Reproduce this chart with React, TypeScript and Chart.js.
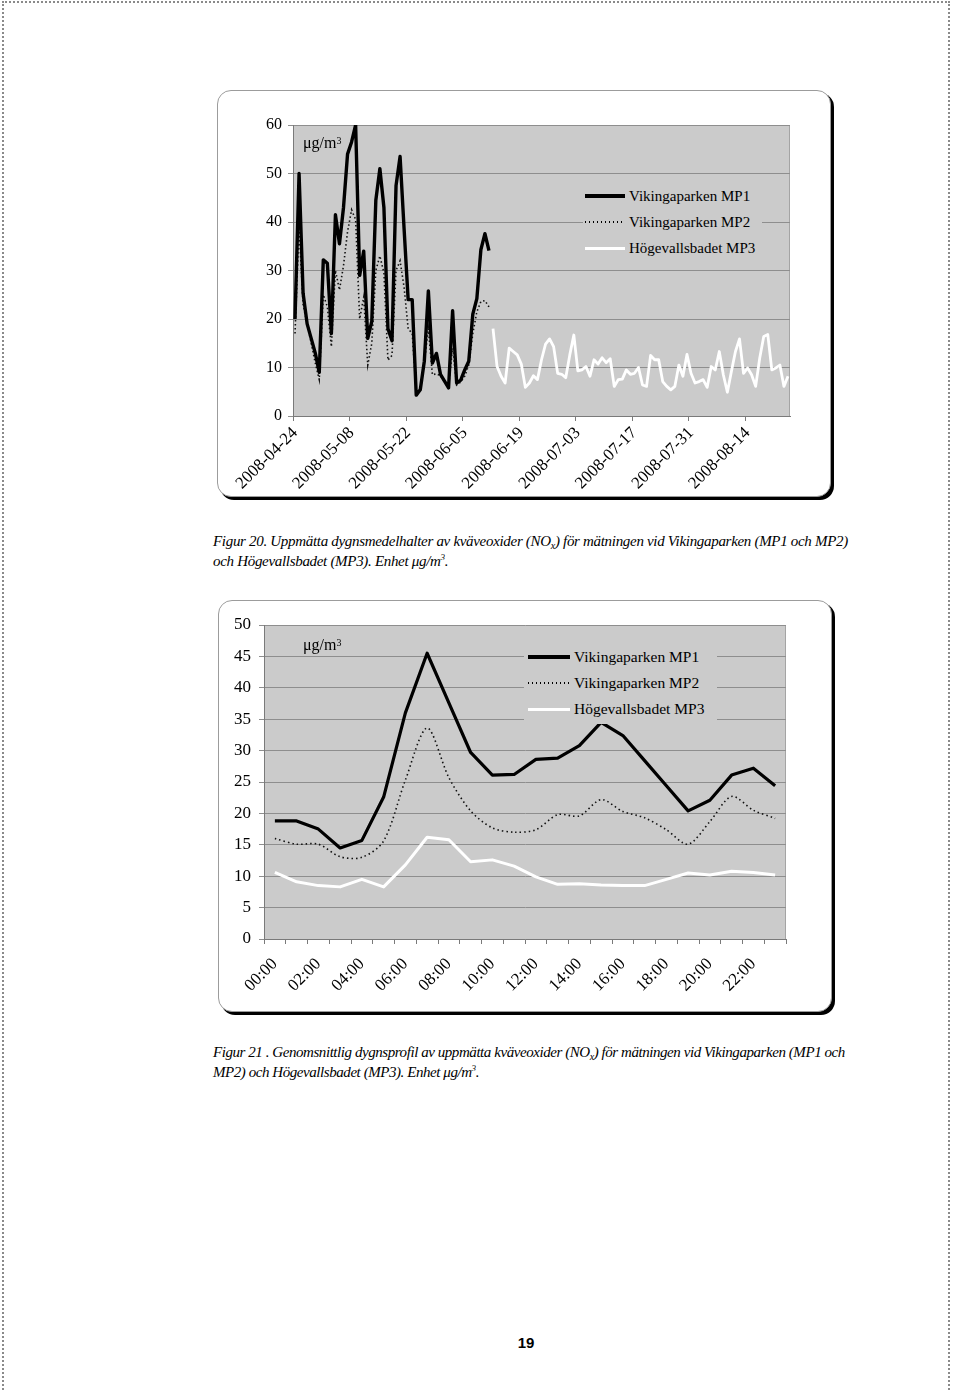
import React, { useEffect, useRef } from 'react';
import { Chart, registerables } from 'chart.js';

Chart.register(...registerables);

// ---------- Figure 20: daily means ----------
const DAY_START = '2008-04-24';
const DAY_COUNT = 123;
const DATE_TICK_LABELS = [
  '2008-04-24', '2008-05-08', '2008-05-22', '2008-06-05', '2008-06-19',
  '2008-07-03', '2008-07-17', '2008-07-31', '2008-08-14',
];
const DAILY_Y_TICKS = [0, 10, 20, 30, 40, 50, 60];

const MP1_DAILY = [
  20, 50, 25.3, 19, 16, 13, 9, 32.2, 31.5, 17,
  41.5, 35.5, 43, 54, 56.5, 60, 29, 34, 16, 19.5,
  44.5, 51, 43, 18, 15.5, 47.5, 53.5, 38.5, 24, 24,
  4.3, 5.4, 11.3, 25.8, 10.9, 12.9, 8.6, 7.2, 5.8, 21.7,
  6.8, 7.4, 9.5, 11.3, 21, 24.2, 34.3, 37.6, 34.1,
];
const MP2_DAILY = [
  17, 39, 23, 19, 15, 11, 7.5, 25, 22.5, 14.3,
  30, 26, 31, 38, 42.5, 40.5, 20, 24.5, 10.5, 15,
  30, 33, 29.5, 11.5, 12.5, 30, 32, 26.5, 18, 17,
  5, 5.5, 11, 18, 8.5, 8.7, 8.3, 7, 6, 14,
  6.4, 7, 8.2, 10.5, 17, 21.5, 23.6, 23.8, 22.5,
];
const MP3_DAILY_FIRST_DAY = 49;
const MP3_DAILY = [
  18, 10.2, 8.2, 6.8, 14, 13.3, 12.6, 10.7, 5.9, 6.8,
  8.3, 7.5, 11.6, 14.8, 15.9, 14.3, 8.8, 8.6, 7.9, 12.6,
  16.7, 9.3, 9.5, 10.2, 8.2, 11.6, 10.7, 12, 11, 11.8,
  6.1, 7.5, 7.6, 9.5, 8.6, 8.8, 10, 6.4, 6.1, 12.5,
  11.6, 11.6, 7.1, 6.1, 5.4, 6.1, 10.5, 8.2, 12.7, 8.8,
  6.8, 7.1, 7.5, 5.9, 10.2, 9.5, 13.3, 8.5, 4.9, 9.2,
  13.3, 15.9, 8.8, 9.9, 8.5, 6.1, 11.9, 16.4, 16.8, 9.5,
  9.9, 10.5, 6.1, 8.2,
];

// ---------- Figure 21: diurnal profile ----------
const HOURS = [
  '00:00', '01:00', '02:00', '03:00', '04:00', '05:00', '06:00', '07:00',
  '08:00', '09:00', '10:00', '11:00', '12:00', '13:00', '14:00', '15:00',
  '16:00', '17:00', '18:00', '19:00', '20:00', '21:00', '22:00', '23:00',
];
const HOUR_TICK_LABELS = [
  '00:00', '02:00', '04:00', '06:00', '08:00', '10:00',
  '12:00', '14:00', '16:00', '18:00', '20:00', '22:00',
];
const HOURLY_Y_TICKS = [0, 5, 10, 15, 20, 25, 30, 35, 40, 45, 50];
const MP1_HOURLY = [
  18.8, 18.8, 17.5, 14.5, 15.7, 22.6, 36, 45.5, 37.6, 29.7, 26.1, 26.2,
  28.6, 28.8, 30.8, 34.5, 32.4, 28.4, 24.4, 20.4, 22.1, 26.1, 27.2, 24.4,
];
const MP2_HOURLY = [
  16, 15.1, 15.1, 13.1, 13, 15.6, 25.3, 33.6, 25.7, 20.4, 17.7, 17,
  17.4, 19.8, 19.6, 22.2, 20.3, 19.3, 17.4, 15.1, 18.7, 22.7, 20.5, 19.2,
];
const MP3_HOURLY = [
  10.6, 9.1, 8.5, 8.3, 9.5, 8.3, 11.8, 16.2, 15.8, 12.3, 12.6, 11.6,
  9.9, 8.7, 8.8, 8.6, 8.5, 8.5, 9.5, 10.5, 10.2, 10.8, 10.6, 10.2,
];

const SERIES_NAMES = ['Vikingaparken MP1', 'Vikingaparken MP2', 'Högevallsbadet MP3'];

// ---------- helpers ----------
function buildDays(start: string, count: number): string[] {
  const out: string[] = [];
  const t0 = new Date(start + 'T00:00:00Z').getTime();
  for (let i = 0; i < count; i++) {
    out.push(new Date(t0 + i * 86400000).toISOString().slice(0, 10));
  }
  return out;
}
function padTo(values: number[], before: number, total: number): (number | null)[] {
  const arr: (number | null)[] = [];
  for (let i = 0; i < before; i++) arr.push(null);
  for (const v of values) arr.push(v);
  while (arr.length < total) arr.push(null);
  return arr;
}

const PLOT_BG = '#cbcbcb';
const GRID = '#8e8e8e';
const AXIS = '#7a7a7a';
const SERIF = "'Liberation Serif', 'Times New Roman', serif";

const plotBg = {
  id: 'plotBg',
  beforeDraw(chart: any) {
    const { ctx, chartArea } = chart;
    const { left, top, right, bottom } = chartArea;
    ctx.save();
    ctx.fillStyle = PLOT_BG;
    ctx.fillRect(left, top, right - left, bottom - top);
    ctx.strokeStyle = '#a4a4a4';
    ctx.lineWidth = 1;
    ctx.strokeRect(Math.round(right) - 0.5, Math.round(top) + 0.5, 0, bottom - top);
    ctx.restore();
  },
};

interface ChartSpec {
  labels: string[];
  tickLabels: string[];
  datasets: any[];
  yTicks: number[];
  width: number;
  height: number;
  areaLeft: number;
  areaTop: number;
  areaRight: number;
  areaBottom: number;
  showTickMark: (i: number) => boolean;
  yPad: number;
  xPad: number;
  xFont: number;
  yFont: number;
}

function LineChart({ spec }: { spec: ChartSpec }) {
  const ref = useRef<HTMLCanvasElement | null>(null);
  useEffect(() => {
    const canvas = ref.current;
    if (!canvas) return;
    const s = spec;
    const yMin = s.yTicks[0];
    const yMax = s.yTicks[s.yTicks.length - 1];
    const step = s.yTicks[1] - s.yTicks[0];
    const xHeight = s.height - s.areaBottom;
    const chart = new Chart(canvas, {
      type: 'line',
      data: { labels: s.labels, datasets: s.datasets },
      plugins: [plotBg],
      options: {
        animation: false,
        responsive: false,
        maintainAspectRatio: false,
        devicePixelRatio: 1,
        layout: { padding: { left: 0, top: s.areaTop, right: s.width - s.areaRight, bottom: 0 } },
        plugins: { legend: { display: false }, tooltip: { enabled: false }, title: { display: false } },
        elements: { point: { radius: 0, hoverRadius: 0 }, line: { tension: 0 } },
        scales: {
          x: {
            type: 'category',
            offset: true,
            grid: {
              offset: true,
              drawOnChartArea: false,
              tickLength: 5,
              color: (ctx: any) => (s.showTickMark(ctx.index) ? AXIS : 'rgba(0,0,0,0)'),
            },
            border: { color: AXIS, width: 1 },
            ticks: {
              autoSkip: false,
              minRotation: 45,
              maxRotation: 45,
              padding: s.xPad,
              color: '#000',
              font: { family: SERIF, size: s.xFont },
              callback: function (this: any, value: any) {
                const lab = this.getLabelForValue(value);
                return s.tickLabels.includes(lab) ? lab : '';
              },
            },
            afterFit: (sc: any) => {
              sc.height = xHeight;
              sc.paddingLeft = 0;
              sc.paddingRight = 0;
            },
          },
          y: {
            min: yMin,
            max: yMax,
            grid: { color: GRID, tickLength: 5, lineWidth: 1 },
            border: { color: AXIS, width: 1 },
            ticks: {
              stepSize: step,
              padding: s.yPad,
              color: '#000',
              font: { family: SERIF, size: s.yFont },
            },
            afterFit: (sc: any) => {
              sc.width = s.areaLeft;
              sc.paddingTop = 0;
              sc.paddingBottom = 0;
            },
          },
        },
      } as any,
    });
    return () => chart.destroy();
  }, [spec]);
  return (
    <canvas
      ref={ref}
      width={spec.width}
      height={spec.height}
      style={{ position: 'absolute', left: 0, top: 0, width: spec.width, height: spec.height }}
    />
  );
}

function LegendBox({ left, top, width, height, rowY, lineX, lineW, textX, fontSize }: any) {
  const samples = [
    { height: 3.5, background: '#000' },
    { height: 1.5, background: 'repeating-linear-gradient(to right, #000 0 1.5px, rgba(0,0,0,0) 1.5px 4px)' },
    { height: 3, background: '#fff' },
  ];
  return (
    <div style={{ position: 'absolute', left, top, width, height, background: PLOT_BG }}>
      {SERIES_NAMES.map((name, i) => (
        <React.Fragment key={name}>
          <div
            style={{
              position: 'absolute',
              left: lineX,
              top: rowY[i] - samples[i].height / 2,
              width: lineW,
              height: samples[i].height,
              background: samples[i].background,
            }}
          />
          <div
            style={{
              position: 'absolute',
              left: textX,
              top: rowY[i] - 10,
              height: 20,
              lineHeight: '20px',
              fontFamily: SERIF,
              fontSize,
              color: '#000',
              whiteSpace: 'nowrap',
            }}
          >
            {name}
          </div>
        </React.Fragment>
      ))}
    </div>
  );
}

function Unit({ left, top }: { left: number; top: number }) {
  return (
    <div
      style={{
        position: 'absolute',
        left,
        top,
        fontFamily: SERIF,
        fontSize: 16,
        lineHeight: '18px',
        color: '#000',
        whiteSpace: 'nowrap',
      }}
    >
      μg/m<sup style={{ fontSize: 10, verticalAlign: 'top', position: 'relative', top: -2 }}>3</sup>
    </div>
  );
}

function Frame({ left, top, width, height, children }: any) {
  return (
    <div style={{ position: 'absolute', left, top, width, height }}>
      <div
        style={{
          position: 'absolute',
          left: 0,
          top: 0,
          width,
          height,
          boxSizing: 'border-box',
          border: '1px solid #9c9c9c',
          borderRadius: 14,
          background: '#fff',
          boxShadow: '3px 3px 0 #000',
        }}
      />
      {children}
    </div>
  );
}

const capStyle: React.CSSProperties = {
  position: 'absolute',
  fontFamily: SERIF,
  fontStyle: 'italic',
  fontSize: 15,
  lineHeight: '20px',
  color: '#000',
  whiteSpace: 'nowrap',
};

function NOx() {
  return (
    <>
      (NO<sub style={{ fontSize: 10, verticalAlign: 'baseline', position: 'relative', top: 3 }}>x</sub>)
    </>
  );
}
function Unit3() {
  return (
    <>
      μg/m<sup style={{ fontSize: 9, verticalAlign: 'baseline', position: 'relative', top: -6 }}>3</sup>
    </>
  );
}

export default function App() {
  const days = buildDays(DAY_START, DAY_COUNT);

  const dailySpec: ChartSpec = {
    labels: days,
    tickLabels: DATE_TICK_LABELS,
    datasets: [
      {
        label: SERIES_NAMES[0],
        data: padTo(MP1_DAILY, 0, DAY_COUNT),
        borderColor: '#000',
        borderWidth: 3.4,
        spanGaps: false,
        borderJoinStyle: 'round',
      },
      {
        label: SERIES_NAMES[1],
        data: padTo(MP2_DAILY, 0, DAY_COUNT),
        borderColor: '#111',
        borderWidth: 1.6,
        borderDash: [1.5, 2.5],
        spanGaps: false,
      },
      {
        label: SERIES_NAMES[2],
        data: padTo(MP3_DAILY, MP3_DAILY_FIRST_DAY, DAY_COUNT),
        borderColor: '#fff',
        borderWidth: 2.8,
        spanGaps: false,
        borderJoinStyle: 'round',
      },
    ],
    yTicks: DAILY_Y_TICKS,
    width: 614,
    height: 407,
    areaLeft: 76,
    areaTop: 35,
    areaRight: 573,
    areaBottom: 326,
    showTickMark: (i: number) => i % 14 === 0 && i < DAY_COUNT,
    yPad: 6,
    xPad: 2,
    xFont: 17,
    yFont: 16,
  };

  const hourlySpec: ChartSpec = {
    labels: HOURS,
    tickLabels: HOUR_TICK_LABELS,
    datasets: [
      {
        label: SERIES_NAMES[0],
        data: MP1_HOURLY,
        borderColor: '#000',
        borderWidth: 3.2,
        borderJoinStyle: 'round',
      },
      {
        label: SERIES_NAMES[1],
        data: MP2_HOURLY,
        borderColor: '#111',
        borderWidth: 1.6,
        borderDash: [1.5, 3],
        tension: 0.3,
      },
      {
        label: SERIES_NAMES[2],
        data: MP3_HOURLY,
        borderColor: '#fff',
        borderWidth: 3,
        borderJoinStyle: 'round',
      },
    ],
    yTicks: HOURLY_Y_TICKS,
    width: 614,
    height: 412,
    areaLeft: 46,
    areaTop: 25,
    areaRight: 568,
    areaBottom: 339,
    showTickMark: () => true,
    yPad: 8,
    xPad: 10,
    xFont: 17,
    yFont: 17,
  };

  return (
    <div
      style={{
        position: 'absolute',
        left: 0,
        top: 0,
        width: 960,
        height: 1390,
        overflow: 'hidden',
        background: '#fff',
      }}
    >
      {/* page border */}
      <div
        style={{
          position: 'absolute',
          left: 2,
          top: 1,
          width: 948,
          height: 1389,
          borderTop: '2px dotted #8a8a8a',
          borderLeft: '2px dotted #8a8a8a',
          borderRight: '2px dotted #8a8a8a',
          boxSizing: 'border-box',
        }}
      />

      <Frame left={217} top={90} width={614} height={407}>
        <LineChart spec={dailySpec} />
        <LegendBox
          left={583 - 217}
          top={182 - 90}
          width={179}
          height={80}
          rowY={[14, 40, 66]}
          lineX={2}
          lineW={40}
          textX={46}
          fontSize={15}
        />
        <Unit left={303 - 217} top={134 - 90} />
      </Frame>

      <div style={{ ...capStyle, left: 213, top: 531, letterSpacing: '-0.31px' }}>
        Figur 20. Uppmätta dygnsmedelhalter av kväveoxider <NOx /> för mätningen vid Vikingaparken (MP1 och MP2)
      </div>
      <div style={{ ...capStyle, left: 213, top: 551, letterSpacing: '-0.31px' }}>
        och Högevallsbadet (MP3). Enhet <Unit3 />.
      </div>

      <Frame left={218} top={600} width={614} height={412}>
        <LineChart spec={hourlySpec} />
        <LegendBox
          left={524 - 218}
          top={642 - 600}
          width={193}
          height={82}
          rowY={[15, 41, 67]}
          lineX={4}
          lineW={42}
          textX={50}
          fontSize={15.5}
        />
        <Unit left={303 - 218} top={636 - 600} />
      </Frame>

      <div style={{ ...capStyle, left: 213, top: 1042, letterSpacing: '-0.44px' }}>
        Figur 21 . Genomsnittlig dygnsprofil av uppmätta kväveoxider <NOx /> för mätningen vid Vikingaparken (MP1 och
      </div>
      <div style={{ ...capStyle, left: 213, top: 1062, letterSpacing: '-0.44px' }}>
        MP2) och Högevallsbadet (MP3). Enhet <Unit3 />.
      </div>

      <div
        style={{
          position: 'absolute',
          left: 496,
          top: 1334,
          width: 60,
          textAlign: 'center',
          fontFamily: "'Liberation Sans', Arial, sans-serif",
          fontWeight: 'bold',
          fontSize: 15,
          lineHeight: '18px',
          color: '#000',
        }}
      >
        19
      </div>
    </div>
  );
}
